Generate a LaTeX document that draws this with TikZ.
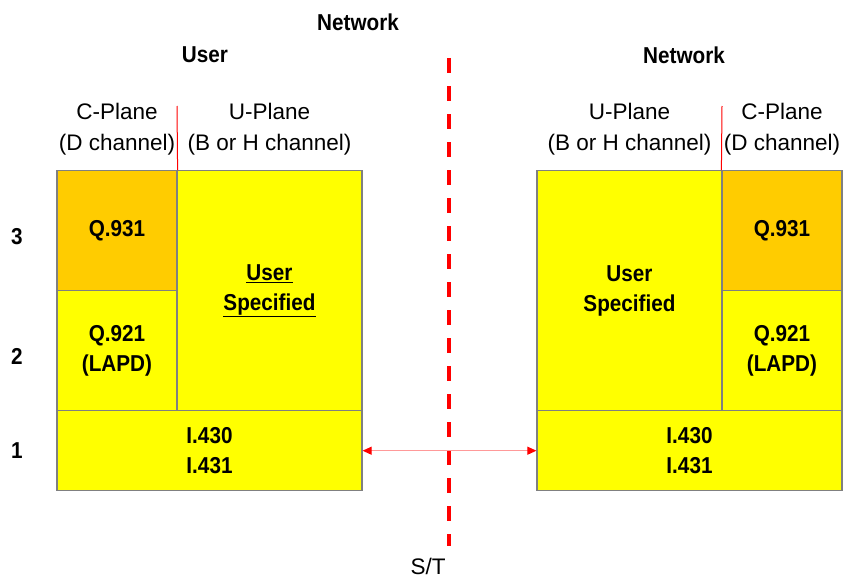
\documentclass[tikz,border=0pt]{standalone}
\usepackage{fontspec}
\setmainfont{Liberation Sans}
\newfontfamily\narrowsf[FakeStretch=0.9]{Liberation Sans}
\usepackage{tikz}
\usetikzlibrary{arrows.meta}
\definecolor{qorange}{HTML}{FFCC00}
\definecolor{qyellow}{HTML}{FFFF00}
\definecolor{arrowpink}{HTML}{FF9999}

\begin{document}
\begin{tikzpicture}[x=1pt, y=-1pt,
    lbl/.style={align=center, font=\fontsize{22.5}{31}\selectfont},
    hdr/.style={align=center, font=\narrowsf\fontsize{23}{30}\selectfont\bfseries},
    layer/.style={draw=gray, line width=1.2pt, fill=qyellow, inner sep=0pt,
        align=center, font=\narrowsf\fontsize{23}{30}\selectfont\bfseries},
    ctl/.style={layer, minimum width=120pt, minimum height=120pt}]
    \useasboundingbox (0,0) rectangle (854,578);
    \node[hdr] (net) at (358, 22) {Network};
    \node[hdr] (usr) at (205, 55) {User};
    \node[hdr] (rnet) at (684, 55) {Network};
    \node[lbl] (lcp) at (117, 129.5) {C-Plane\\(D channel)};
    \node[lbl] (lup) at (269.5, 129.5) {U-Plane\\(B or H channel)};
    \node[lbl] (rup) at (629.5, 129.5) {U-Plane\\(B or H channel)};
    \node[lbl] (rcp) at (782, 129.5) {C-Plane\\(D channel)};
    \node[hdr] (n3) at (17, 237) {3};
    \node[hdr] (n2) at (17, 356) {2};
    \node[hdr] (n1) at (17, 451) {1};
    \node[ctl, fill=qorange] (lq931) at (117, 230.7) {Q.931};
    \node[ctl] (lq921) at (117, 350.7) {Q.921\\(LAPD)};
    \node[layer, minimum width=185pt, minimum height=240pt] (luser) at (269.5, 290.7) {\underline{User}\\\underline{Specified}};
    \node[layer, minimum width=305pt, minimum height=80pt] (lphy) at (209.5, 450.7) {I.430\\I.431};
    \node[layer, minimum width=185pt, minimum height=240pt] (ruser) at (629.5, 290.7) {User\\Specified};
    \node[ctl, fill=qorange] (rq931) at (782, 230.7) {Q.931};
    \node[ctl] (rq921) at (782, 350.7) {Q.921\\(LAPD)};
    \node[layer, minimum width=305pt, minimum height=80pt] (rphy) at (689.5, 450.7) {I.430\\I.431};
    \node[lbl] (st) at (428, 566) {S/T};
    \coordinate (lsplit) at (177, 106);
    \coordinate (rsplit) at (722, 106);
    \coordinate (divtop) at (449, 58);
    \coordinate (divbot) at (449, 546);
    \draw[red, line width=1pt] (lsplit) -- (lq931.north east);
    \draw[red, line width=1pt] (rsplit) -- (rq931.north west);
    \draw[red, line width=4pt, dash pattern=on 15pt off 13pt] (divtop) -- (divbot);
    \draw[arrowpink, line width=1pt, {Triangle[length=9pt, width=8pt, color=red]}-{Triangle[length=9pt, width=8pt, color=red]}] (lphy.east) -- (rphy.west);
\end{tikzpicture}
\end{document}
